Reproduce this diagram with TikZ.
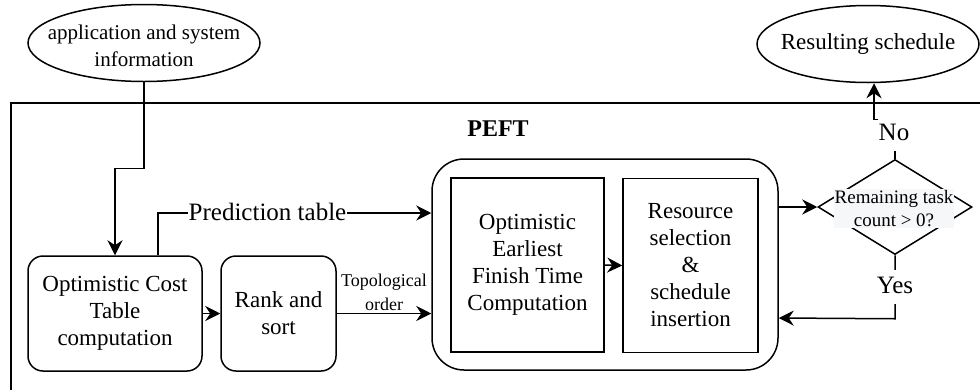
\documentclass[tikz,border=0pt]{standalone}
\usepackage{fontspec}
\setmainfont{Liberation Serif}
\usetikzlibrary{shapes.geometric,arrows.meta}

\definecolor{qbg}{RGB}{246,247,249}

\begin{document}
\begin{tikzpicture}[x=1pt,y=-1pt,
  line width=1.5pt,
  arr/.style={-{Stealth[length=15pt,width=15pt,inset=5pt]}},
  txt/.style={font=\fontsize{23}{27}\selectfont, align=center, inner sep=0pt},
  rbox/.style={draw, rounded corners=15pt, inner sep=0pt},
  sbox/.style={draw, inner sep=0pt},
  oval/.style={draw, ellipse, inner sep=0pt},
  lab/.style={fill=white, font=\fontsize{25}{30}\selectfont, inner xsep=1pt, inner ysep=5pt,
              text height=18pt, text depth=6pt, anchor=base},
]
\useasboundingbox (0,0) rectangle (980,389);
\fill[white] (0,0) rectangle (980,389);

% enclosing PEFT frame (runs past the right and bottom edges)
\node[sbox, minimum width=990pt, minimum height=318pt, anchor=north west] (frame) at (10,102) {};
\node[font=\fontsize{24}{28}\selectfont\bfseries, inner sep=0pt] (title) at (498,129) {PEFT};

% input and output
\node[oval, minimum width=232pt, minimum height=77pt] (app) at (144,43) {};
\node[txt, font=\fontsize{21}{27}\selectfont] at (144,46) {application and system\\information};
\node[oval, minimum width=222pt, minimum height=77pt] (result) at (868,44) {};
\node[txt] at (868,44) {Resulting schedule};

% processing steps
\node[rbox, txt, minimum width=174pt, minimum height=115pt] (oct) at (115,313.5)
  {Optimistic Cost\\Table\\computation};
\node[rbox, txt, minimum width=115pt, minimum height=115pt] (rank) at (278.5,313.5)
  {Rank and\\sort};
\node[draw, rounded corners=32pt, minimum width=346pt, minimum height=211pt, inner sep=0pt]
  (peft) at (605,264.5) {};
\node[sbox, txt, minimum width=153pt, minimum height=174pt] (oeft) at (527.5,265)
  {Optimistic\\Earliest\\Finish Time\\Computation};
\node[sbox, txt, minimum width=135pt, minimum height=174pt] (res) at (690.5,265.5)
  {Resource\\selection\\\&\\schedule\\insertion};

% decision
\node[draw, diamond, aspect=1.62, minimum width=154pt, minimum height=95pt, inner sep=0pt]
  (dec) at (895,207) {};
\node[fill=qbg, inner sep=1pt, align=center, font=\fontsize{19}{23}\selectfont] (q) at (894,208.5)
  {Remaining task\\count > 0?};

% connectors
\draw[arr] (app.south) -- ++(0,86) -| (oct.north);
\draw[arr] ([xshift=43pt]oct.north) |- ([yshift=51.5pt]peft.west);
\node[lab, inner ysep=1pt] (pt) at (267.5,220) {Prediction table};
\draw[arr] (oct.east) -- (rank.west);
\draw[arr] (rank.east) -- (rank.east -| peft.west)
  node[midway, anchor=south, align=center, inner sep=2pt, font=\fontsize{18}{24}\selectfont]
  (topo) {Topological\\order};
\draw[arr] (oeft.east) -- (res.west);
\draw[arr] (peft.east |- dec.west) -- (dec.west);
\draw[arr] (dec.north) -- ++(0,-39.5) -| ([xshift=6pt]result.south);
\node[lab] (no) at (894,140) {No};
\draw[arr] (dec.south) -- ++(0,63.5) -- ([yshift=-53.5pt]peft.east);
\node[lab] (yes) at (895,293) {Yes};
\end{tikzpicture}
\end{document}
